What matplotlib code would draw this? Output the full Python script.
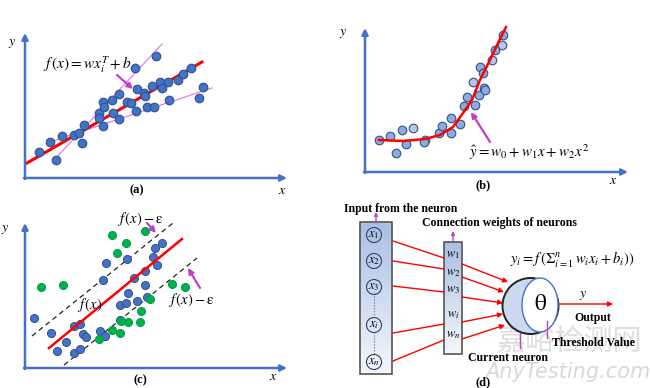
import numpy as np
import matplotlib.pyplot as plt
from matplotlib.patches import Circle, Ellipse, Rectangle
from matplotlib.colors import LinearSegmentedColormap

plt.rcParams['mathtext.fontset'] = 'stix'
plt.rcParams['font.family'] = ['Liberation Serif', 'DejaVu Serif']

# ---- panel (a): linear regression
a_x = [14, 25, 31, 37, 49, 54, 57, 59, 74, 74, 78, 79, 78, 87, 88, 94, 94, 102, 106,
       111, 110, 112, 119, 120, 122, 127, 129, 131, 135, 137, 143, 144, 153, 158, 166, 174, 178]
a_y = [26, 36, 18, 42, 43, 45, 35, 53, 65, 60, 76, 71, 52, 78, 65, 84, 59, 76, 75,
       67, 110, 89, 85, 82, 71, 92, 71, 122, 96, 90, 96, 78, 98, 104, 110, 80, 91]
a_fit = ([2, 177], [15, 116])
a_upper = ([30, 137], [19, 134])
a_lower = ([22, 187], [35, 90])

# ---- panel (b): polynomial regression
b_x = [14, 25, 31, 37, 41, 48, 60, 59, 74, 77, 86, 86, 95, 99, 102, 110, 114,
       108, 115, 118, 119, 120, 127, 130, 137, 138]
b_y = [32, 36, 19, 42, 28, 44, 32, 30, 39, 46, 54, 39, 48, 66, 75, 67, 77,
       90, 105, 99, 84, 82, 112, 122, 127, 137]
b_light = [5, 17, 22, 24]
b_curve_x = [14, 38, 60, 75, 88, 98, 107, 115, 125, 133, 141]
b_curve_y = [32, 31, 33, 37, 45, 59, 72, 92, 112, 129, 145]

# ---- panel (c): support vector regression
c_blue_x = [9, 26, 32, 41, 49, 49, 55, 55, 58, 61, 75, 80, 78, 81, 95, 95, 101, 102,
            103, 109, 112, 120, 120, 122, 128, 132, 130, 137]
c_blue_y = [50, 35, 17, 26, 15, 42, 44, 19, 34, 31, 37, 32, 88, 105, 63, 48, 65, 109,
            75, 90, 67, 97, 83, 71, 111, 103, 120, 125]
c_green_x = [16, 38, 87, 101, 92, 120, 147, 160, 125, 116, 115, 103, 96, 95, 87, 74]
c_green_y = [81, 83, 133, 125, 115, 137, 84, 81, 69, 57, 46, 46, 47, 35, 38, 29]
c_fit = ([24, 157], [20, 129])
c_upper = ([7, 148], [32, 145])
c_lower = ([39, 172], [3, 110])

# ---- panel (d): neuron
inputs = ['$x_1$', '$x_2$', '$x_3$', '$x_i$', '$x_n$']
input_y = [153, 127, 101, 63, 26]
weights = ['$w_1$', '$w_2$', '$w_3$', '$w_i$', '$w_n$']
weight_y = [133, 115, 98, 73, 53]
link_in_y = [147, 127, 102, 55, 27]
link_mid_y = [130, 119, 96, 64, 48]
link_out_y = [124, 111, 91, 66, 49]
link_end = [(188, 106), (184, 96), (183, 85), (183, 74), (185, 63)]

BLUE = '#4472c4'
EDGE = '#2f528f'
RED = '#ff0000'
MAG = '#c040c8'
PINK = '#e47ce4'

W, H = 650, 388
fig = plt.figure(figsize=(6.5, 3.88), dpi=100)


def panel(x0, y0):
    ax = fig.add_axes([0, 0, 1, 1])
    ax.set_xlim(-x0, W - x0)
    ax.set_ylim(y0 - H, y0)
    ax.axis('off')
    ax.patch.set_alpha(0)
    return ax


def axes_arrows(ax, xlen, ylen):
    kw = dict(arrowstyle='-|>', color=BLUE, lw=1.8, mutation_scale=9,
              shrinkA=0, shrinkB=0)
    ax.annotate('', xy=(0, ylen), xytext=(0, -1), arrowprops=kw)
    ax.annotate('', xy=(xlen, 0), xytext=(-1, 0), arrowprops=kw)


def arrow(ax, start, end, color=MAG, lw=1.6, ms=8):
    ax.annotate('', xy=end, xytext=start,
                arrowprops=dict(arrowstyle='-|>', color=color, lw=lw,
                                mutation_scale=ms, shrinkA=0, shrinkB=0))


# (a)
ax = panel(25, 178)
axes_arrows(ax, 262, 145)
ax.plot(*a_upper, color=PINK, lw=0.9)
ax.plot(*a_lower, color=PINK, lw=0.9)
ax.plot(*a_fit, color=RED, lw=2.2)
ax.plot(a_x, a_y, 'o', ms=6.2, mfc=BLUE, mec=EDGE, mew=0.8)
arrow(ax, (92, 103), (108, 89))
ax.text(18, 113, r'$f\,(x) = wx_i^T + b$', fontsize=11, va='center')
ax.text(-13, 135, '$y$', fontsize=10, ha='center', va='center')
ax.text(257, -12, '$x$', fontsize=10, ha='center', va='center')
ax.text(112, -12, '(a)', fontsize=9, fontweight='bold', ha='center', va='center')

# (b)
ax = panel(365, 172)
axes_arrows(ax, 263, 144)
for i in range(len(b_x)):
    fc = '#b4c7e7' if i in b_light else '#8faadc'
    ax.plot(b_x[i], b_y[i], 'o', ms=6.2, mfc=fc, mec=EDGE, mew=0.8)
ax.plot(b_curve_x, b_curve_y, color=RED, lw=1.8)
arrow(ax, (125, 30), (106, 60))
ax.text(104, 20, r'$\hat{y} = w_0 + w_1x + w_2x^2$', fontsize=10.8, va='center')
ax.text(-22, 139, '$y$', fontsize=10, ha='center', va='center')
ax.text(248, -8, '$x$', fontsize=10, ha='center', va='center')
ax.text(118, -13, '(b)', fontsize=9, fontweight='bold', ha='center', va='center')

# (c)
ax = panel(25, 368)
axes_arrows(ax, 262, 145)
ax.plot(*c_upper, color='#222222', lw=0.9, ls=(0, (4, 3)))
ax.plot(*c_lower, color='#222222', lw=0.9, ls=(0, (4, 3)))
ax.plot(c_blue_x, c_blue_y, 'o', ms=5.8, mfc=BLUE, mec=EDGE, mew=0.7)
ax.plot(c_green_x, c_green_y, 'o', ms=5.8, mfc='#00b050', mec='#00a040', mew=0.7)
ax.plot(*c_fit, color=RED, lw=1.8)
arrow(ax, (122, 145), (131, 135))
arrow(ax, (175, 80), (163, 100))
ax.text(115, 149, r'$f\,(x) - \mathrm{\varepsilon}$', fontsize=10.5, ha='center', va='center')
ax.text(65, 63, r'$f\,(x)$', fontsize=10.5, ha='center', va='center')
ax.text(166, 68, r'$f\,(x) - \mathrm{\varepsilon}$', fontsize=10.5, ha='center', va='center')
ax.text(-20, 138, '$y$', fontsize=10, ha='center', va='center')
ax.text(248, -9, '$x$', fontsize=10, ha='center', va='center')
ax.text(115, -12, '(c)', fontsize=9, fontweight='bold', ha='center', va='center')

# (d)
ax = panel(320, 388)
grad = np.linspace(0, 1, 100).reshape(-1, 1)
cm = LinearSegmentedColormap.from_list('g', ['#f4f7fc', '#a9bfe4'])
ax.imshow(grad, extent=(40, 72, 166, 14), cmap=cm, aspect='auto', zorder=1)
ax.add_patch(Rectangle((40, 14), 32, 152, fill=False, ec='#555555', lw=1.2, zorder=2))
ax.imshow(grad, extent=(124, 142, 146, 34), cmap=cm, aspect='auto', zorder=1)
ax.add_patch(Rectangle((124, 34), 18, 112, fill=False, ec='#555555', lw=1.2, zorder=2))

for lab, yy in zip(inputs, input_y):
    ax.add_patch(Circle((54, yy), 7.5, fill=False, ec='#2f3f6f', lw=0.8, zorder=3))
    ax.text(54, yy, lab, fontsize=9, ha='center', va='center', zorder=4)
ax.plot([54, 54], [95, 70], color='#666666', lw=0.8, ls=':', zorder=3)
ax.plot([54, 54], [56, 33], color='#666666', lw=0.8, ls=':', zorder=3)
for lab, yy in zip(weights, weight_y):
    ax.text(133, yy, lab, fontsize=9, ha='center', va='center', zorder=4)

for y1, y2 in zip(link_in_y, link_mid_y):
    ax.plot([73, 124], [y1, y2], color=RED, lw=1.0, zorder=2)
for y1, end in zip(link_out_y, link_end):
    arrow(ax, (142, y1), end, color=RED, lw=1.0, ms=7)

ax.add_patch(Circle((210.5, 82), 28, fc='#cdd9f0', ec='#222222', lw=1.4, zorder=3))
ax.add_patch(Ellipse((220, 83), 36, 54, fc='white', ec=BLUE, lw=1.0, zorder=4))
ax.text(221, 83, r'$\mathrm{\theta}$', fontsize=17, ha='center', va='center', zorder=5)
arrow(ax, (238, 84), (293, 84), color=RED, lw=1.0, ms=7)
ax.text(263, 92, '$y$', fontsize=10, ha='center', va='center')
ax.text(273, 70, 'Output', fontsize=8.5, fontweight='bold', ha='center', va='center')
ax.text(232, 45, 'Threshold Value', fontsize=8.5, fontweight='bold', ha='left', va='center')
ax.text(188, 30, 'Current neuron', fontsize=8.5, fontweight='bold', ha='center', va='center')
ax.text(81, 179, 'Input from the neuron', fontsize=8.5, fontweight='bold', ha='center', va='center')
ax.text(179, 165, 'Connection weights of neurons', fontsize=8.5, fontweight='bold',
        ha='center', va='center')
ax.text(252, 128, r'$y_i = f\,(\Sigma_{i=1}^{n}\, w_i x_i + b_i))$', fontsize=10.5,
        ha='center', va='center')
ax.text(163, 6, '(d)', fontsize=9, fontweight='bold', ha='center', va='center')

arrow(ax, (56, 165), (56, 176), lw=1.0, ms=5)
arrow(ax, (133, 147), (133, 157), lw=1.0, ms=5)
ax.plot([227, 227], [67, 50], color=MAG, lw=1.0, zorder=6)
ax.plot([200, 200], [55, 40], color=MAG, lw=1.0, zorder=6)

# watermark
ax.text(250, 45, '嘉峪检测网', fontsize=21, color='#c8c8c8', alpha=0.6,
        ha='center', va='center', family=['Noto Sans CJK SC'], zorder=0)
ax.text(248, 16, 'AnyTesting.com', fontsize=15, color='#c8c8c8', alpha=0.7,
        ha='center', va='center', style='italic', family=['DejaVu Sans'], zorder=0)

fig.savefig('out.png', dpi=100)
